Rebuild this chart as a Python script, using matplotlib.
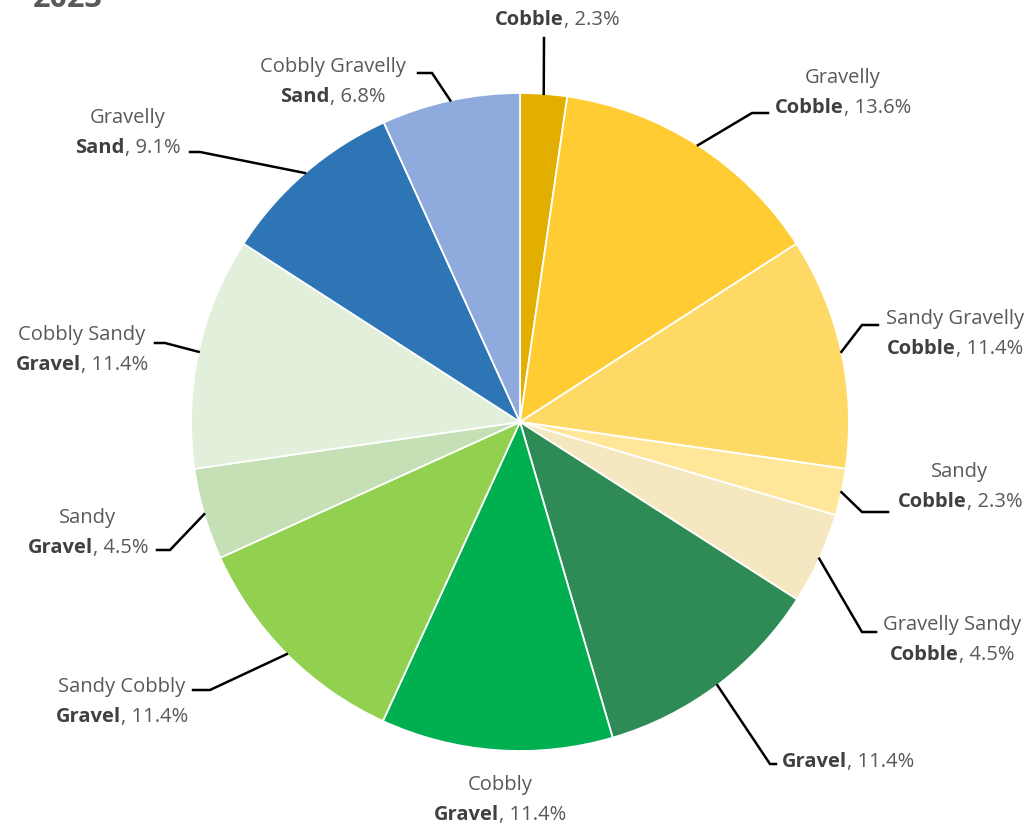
import numpy as np
import matplotlib
matplotlib.use('Agg')
from matplotlib import pyplot as plt
from matplotlib.offsetbox import TextArea, HPacker, VPacker, AnnotationBbox

# data, clockwise from 12 o'clock
prefixes = ['', 'Gravelly', 'Sandy Gravelly', 'Sandy', 'Gravelly Sandy', '',
            'Cobbly', 'Sandy Cobbly', 'Sandy', 'Cobbly Sandy', 'Gravelly', 'Cobbly Gravelly']
classes = ['Cobble', 'Cobble', 'Cobble', 'Cobble', 'Cobble', 'Gravel',
           'Gravel', 'Gravel', 'Gravel', 'Gravel', 'Sand', 'Sand']
percents = [2.3, 13.6, 11.4, 2.3, 4.5, 11.4, 11.4, 11.4, 4.5, 11.4, 9.1, 6.8]
colors = ['#E2AF00', '#FFCD33', '#FFD966', '#FFE699', '#F5E8C0', '#2E8B55',
          '#00B050', '#92D050', '#C5E0B4', '#E2EFDA', '#2E75B6', '#8FAADC']

# layout (pixels): label block centre, elbow point, end of horizontal stub
label_pos = [(557, 20), (843, 93), (955, 334), (960, 487), (952, 640), (848, 762),
             (500, 800), (122, 702), (88, 533), (82, 350), (128, 133), (333, 82)]
elbows = [(544, 38, 544), (752, 113, 768), (862, 325, 878), (862, 512, 888),
          (862, 632, 876), (770, 764, 776), None, (210, 690, 193),
          (170, 550, 157), (165, 343, 155), (200, 152, 190), (432, 73, 418)]

W, H = 1032, 830
cx, cy, R = 520, 422, 329


def px(x, y):
    return (x - cx) / R, (cy - y) / R


fig = plt.figure(figsize=(W / 100, H / 100), dpi=100)
ax = fig.add_axes([0, 0, 1, 1])
wedges, _ = ax.pie(percents, colors=colors, startangle=90, counterclock=False,
                   radius=1, wedgeprops=dict(edgecolor='white', linewidth=1.3))
ax.set_xlim(-cx / R, (W - cx) / R)
ax.set_ylim(-(H - cy) / R, cy / R)
ax.set_aspect('auto')
ax.axis('off')

font = 'Open Sans'
reg = dict(color='#595959', fontsize=14.5, family=font)
bold = dict(color='#404040', fontsize=14.5, family=font, fontweight='bold')

for i, w in enumerate(wedges):
    line2 = HPacker(children=[TextArea(classes[i], textprops=bold),
                              TextArea(', %.1f%%' % percents[i], textprops=reg)],
                    pad=0, sep=0, align='baseline')
    if prefixes[i]:
        box = VPacker(children=[TextArea(prefixes[i], textprops=reg), line2],
                      pad=0, sep=7, align='center')
    else:
        box = line2
    ab = AnnotationBbox(box, px(*label_pos[i]), frameon=False, box_alignment=(0.5, 0.5))
    ax.add_artist(ab)

    if elbows[i] is not None:
        ang = np.deg2rad((w.theta1 + w.theta2) / 2)
        x0, y0 = np.cos(ang), np.sin(ang)
        ex, ey, sx = elbows[i]
        x1, y1 = px(ex, ey)
        x2, _ = px(sx, ey)
        ax.plot([x0, x1, x2], [y0, y1, y1], color='black', lw=1.8, solid_joinstyle='miter')

# title (cut off at top of the image)
ax.text(*px(33, 14), '2023', fontsize=22, fontweight='bold', color='#595959',
        family=font, ha='left', va='bottom')

fig.savefig('out.png', dpi=100)
